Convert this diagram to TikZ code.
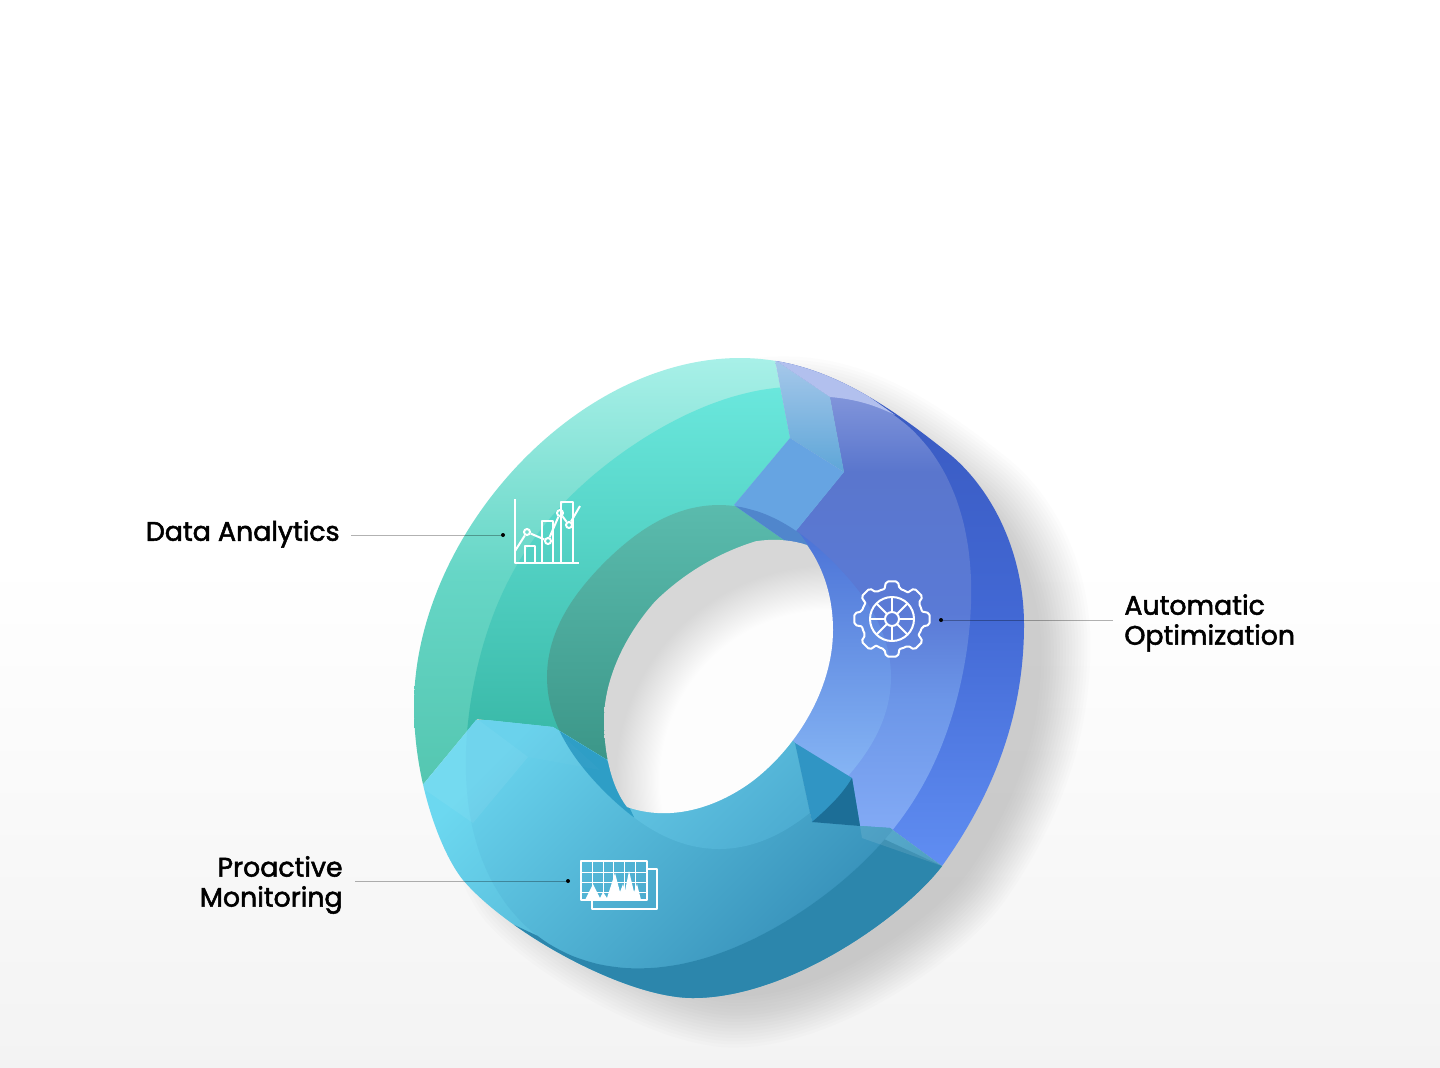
\documentclass[tikz,border=0pt]{standalone}
\usepackage{fontspec}
\newfontfamily\labelfont[FakeBold=2]{Poppins}
\definecolor{bgfloor}{RGB}{243,243,243}
\definecolor{shadowgray}{RGB}{85,85,85}
\definecolor{tealbandtop}{RGB}{168,240,232}
\definecolor{tealbandmid}{RGB}{102,214,198}
\definecolor{tealbandend}{RGB}{84,198,176}
\definecolor{tealfacetop}{RGB}{110,235,225}
\definecolor{tealfaceend}{RGB}{50,178,160}
\definecolor{tealwalltop}{RGB}{108,208,194}
\definecolor{tealwallend}{RGB}{56,146,132}
\definecolor{blueA}{RGB}{56,88,190}
\definecolor{blueB}{RGB}{66,104,212}
\definecolor{blueC}{RGB}{96,142,242}
\definecolor{blueD}{RGB}{128,148,218}
\definecolor{blueE}{RGB}{90,118,205}
\definecolor{blueF}{RGB}{90,122,214}
\definecolor{blueG}{RGB}{108,150,232}
\definecolor{blueH}{RGB}{130,170,245}
\definecolor{bluewalltop}{RGB}{34,68,194}
\definecolor{bluewallend}{RGB}{155,205,255}
\definecolor{skybandtop}{RGB}{108,216,240}
\definecolor{skybandend}{RGB}{58,146,186}
\definecolor{skyfacetop}{RGB}{104,210,236}
\definecolor{skyfaceend}{RGB}{48,135,178}
\definecolor{skywalltop}{RGB}{114,216,240}
\definecolor{skywallend}{RGB}{56,148,192}
\definecolor{skydeep}{RGB}{44,134,172}
\definecolor{skywalldark}{RGB}{46,158,198}
\definecolor{tritop}{RGB}{48,149,196}
\definecolor{tridark}{RGB}{28,110,151}
\definecolor{seamtop}{RGB}{166,200,234}
\definecolor{seamend}{RGB}{94,166,216}
\definecolor{seamlow}{RGB}{102,164,226}
\definecolor{seamthin}{RGB}{80,134,204}
\definecolor{stripblue}{RGB}{178,192,238}
\definecolor{holelight}{RGB}{253,253,253}
\definecolor{holegray}{RGB}{215,215,215}
\pgfdeclareverticalshading{bluefaceshade}{100bp}{color(0bp)=(blueH);color(28.6bp)=(blueH);color(41.4bp)=(blueG);color(50bp)=(blueF);color(64bp)=(blueE);color(71.3bp)=(blueD);color(100bp)=(blueD)}
\pgfdeclareradialshading{holeglow}{\pgfpointorigin}{color(0bp)=(holelight);color(17bp)=(holelight);color(21.5bp)=(holegray);color(50bp)=(holegray)}
\newcommand{\ovalpath}[6]{plot[smooth cycle,domain=0:355,samples=72,variable=\t] ({#1+ringr(#3,#4,#5,\t)*cos(\t+#6)},{#2+ringr(#3,#4,#5,\t)*sin(\t+#6)})}
\newcommand{\ringouter}{(740,358) .. controls (815,358) and (877,396) .. (947,452) .. controls (990,486) and (1024,550) .. (1024,625) .. controls (1024,705) and (1000,785) .. (942,866) .. controls (905,915) and (790,998) .. (693,998) .. controls (625,998) and (507,932) .. (463,880) .. controls (441,853) and (414,782) .. (414,706) .. controls (414,536) and (575,358) .. (740,358) -- cycle}
\newcommand{\ringface}{\ovalpath{718.5}{677.5}{228}{0.7308}{-0.012}{-57.2}}
\newcommand{\ringwall}{\ovalpath{719}{677}{167}{1}{-0.03}{0}}
\newcommand{\ringhole}{(807,545) .. controls (825,570) and (833,600) .. (833,630) .. controls (833,690) and (795,750) .. (750,783) .. controls (715,808) and (670,822) .. (627,807) .. controls (610,785) and (604,750) .. (604,720) .. controls (604,660) and (650,590) .. (710,557) .. controls (745,538) and (780,536) .. (807,545) -- cycle}
\newcommand{\ringsector}[5]{\begin{scope}\clip #1;\shade[#3] #2;\clip \ringface;\shade[#4] #2;\clip \ringwall;\shade[#5] #2;\end{scope}}
\begin{document}
\begin{tikzpicture}[
    x=0.5pt,y=-0.5pt,
    declare function={ringr(\b,\e,\k,\t)=(1-\k*cos(4*\t))*\b/sqrt((\e*cos(\t))^2+sin(\t)^2);},
    tag/.style={font=\labelfont\fontsize{13.4}{15}\selectfont,inner xsep=5.5pt,inner ysep=0pt},
    leader/.style={black,opacity=0.3,line width=0.45pt},
    leaddot/.style={circle,fill=black,inner sep=0pt,minimum size=2pt},
    icon/.style={draw=white,line width=1pt,line join=round},
    thinicon/.style={draw=white,line width=0.45pt},
    chartdot/.style={circle,draw=white,line width=1pt,inner sep=0pt,minimum size=3pt}
  ]
  \useasboundingbox (0,0) rectangle (1440,1067);
  \fill[white] (0,0) rectangle (1440,1067);
  \shade[top color=white,bottom color=bgfloor] (0,560) rectangle (1440,1067);
  \foreach \s in {0.92,0.93,...,1.08} {
    \begin{scope}[shift={(761,702)},scale=\s,shift={(-719,-678)}]
      \fill[shadowgray,opacity=0.017] \ringouter;
    \end{scope}
  }
  \begin{scope}
    \clip \ringouter;
    \ringsector{(775,360) -- (775,300) -- (350,300) -- (350,860) -- (421,787) -- (477,719) -- (553,727) -- (607,760) -- (720,680) -- (787,542) -- (734,505) -- (790,438) -- cycle}{(400,358) rectangle (800,790)}{top color=tealbandtop,bottom color=tealbandend,middle color=tealbandmid}{top color=tealfacetop,bottom color=tealfaceend}{top color=tealwalltop,bottom color=tealwallend}
    \ringsector{(830,397) -- (775,360) -- (775,300) -- (1100,300) -- (1100,950) -- (942,866) -- (890,828) -- (860,826) -- (852,778) -- (795,743) -- (720,680) -- (787,542) -- (844,472) -- cycle}{(770,360) rectangle (1030,866)}{top color=blueA,bottom color=blueC,middle color=blueB}{shading=bluefaceshade}{top color=bluewalltop,bottom color=bluewallend}
    \ringsector{(421,787) -- (350,860) -- (350,1067) -- (1100,1067) -- (942,866) -- (890,828) -- (860,826) -- (812,822) -- (795,743) -- (720,680) -- (607,760) -- (553,727) -- (477,719) -- cycle}{(414,720) rectangle (945,1000)}{top color=skybandtop,bottom color=skybandend,shading angle=45}{top color=skyfacetop,bottom color=skyfaceend,shading angle=45}{top color=skywalltop,bottom color=skywallend,shading angle=45}
    \begin{scope}[even odd rule]
      \clip (300,300) rectangle (1200,1067) \ringface;
      \fill[skydeep] (510,923) -- (540,937) -- (600,900) -- (800,800) -- (942,866) -- (1000,1040) -- (620,1040) -- cycle;
    \end{scope}
    \shade[top color=seamtop,bottom color=seamend] (775,360) -- (830,397) -- (844,472) -- (790,438) -- cycle;
    \fill[seamlow] (790,438) -- (844,472) -- (787,542) -- (734,505) -- cycle;
    \begin{scope}
      \clip \ringwall;
      \fill[seamthin] (734,505) -- (787,542) -- (810,548) -- (790,520) -- cycle;
      \fill[skywalldark] (553,727) -- (607,760) -- (640,830) -- (540,770) -- cycle;
    \end{scope}
    \fill[stripblue] (775,360) -- (775,340) -- (860,380) -- (868,396) -- (895,415) .. controls (875,405) and (855,399) .. (830,397) -- cycle;
    \fill[tritop] (795,743) -- (852,778) -- (860,826) -- (812,822) -- cycle;
    \fill[tridark] (852,778) .. controls (842,795) and (828,808) .. (812,822) -- (860,826) -- cycle;
    \fill[white,opacity=0.1] (860,826) -- (890,828) -- (942,866) -- (862,838) -- cycle;
    \fill[white,opacity=0.06] (477,719) -- (528,757) -- (473,823) -- (421,787) -- cycle;
    \fill[white,opacity=0.02] (477,719) -- (553,727) -- (600,770) -- (528,757) -- cycle;
  \end{scope}
  \begin{scope}
    \clip \ringhole;
    \shade[shading=holeglow] (830,780) circle (250);
  \end{scope}

  \node[tag,anchor=east] (analytics) at (351,534) {Data Analytics};
  \node[tag,anchor=west,align=left] (optimization) at (1113,623) {Automatic\\Optimization};
  \node[tag,anchor=east,align=right,inner xsep=6pt] (monitoring) at (355,885) {Proactive\\Monitoring};
  \node[leaddot] (analyticsdot) at (503,535) {};
  \node[leaddot] (optimizationdot) at (941,620) {};
  \node[leaddot] (monitoringdot) at (568,881) {};
  \draw[leader] (analytics.east |- analyticsdot) -- (analyticsdot);
  \draw[leader] (optimization.west |- optimizationdot) -- (optimizationdot);
  \draw[leader] (monitoring.east |- monitoringdot) -- (monitoringdot);

  \draw[icon] (515,499) -- (515,563) -- (579,563);
  \draw[icon] (525,563) |- (535,546) -- (535,563);
  \draw[icon] (542,563) |- (553,521) -- (553,563);
  \draw[icon] (561,563) |- (573,502) -- (573,563);
  \node[chartdot] (chartA) at (527,532) {};
  \node[chartdot] (chartB) at (548,541) {};
  \node[chartdot] (chartC) at (560,513) {};
  \node[chartdot] (chartD) at (569,525) {};
  \coordinate (chartstart) at (515,551);
  \coordinate (chartend) at (580,506);
  \draw[icon] (chartstart) -- (chartA) -- (chartB) -- (chartC) -- (chartD) -- (chartend);

  \begin{scope}[shift={(892,619)}]
    \foreach \a in {0,45,...,315} {
      \draw[icon,rounded corners=1pt] ({\a-14}:31) -- ({\a-9}:38) -- ({\a+9}:38) -- ({\a+14}:31) arc[start angle=\a+14,end angle=\a+31,radius=31];
      \draw[icon] (\a:7) -- (\a:22);
    }
    \draw[icon] (0,0) circle (22);
    \draw[icon] (0,0) circle (7);
  \end{scope}

  \draw[icon] (647,869) -- (657,869) -- (657,909) -- (592,909) -- (592,900);
  \draw[icon] (581,861) rectangle (647,900);
  \foreach \x in {592,603,613,624,635}
    \draw[thinicon] (\x,861) -- (\x,900);
  \foreach \y in {872,882,892}
    \draw[thinicon] (581,\y) -- (647,\y);
  \fill[white] (585,900) -- (593,884) -- (600,898) -- (603,892) -- (607,898) -- (615,873) -- (620,892) -- (623,884) -- (625,891) -- (629,871) -- (634,892) -- (637,884) -- (641,900) -- cycle;
\end{tikzpicture}
\end{document}
